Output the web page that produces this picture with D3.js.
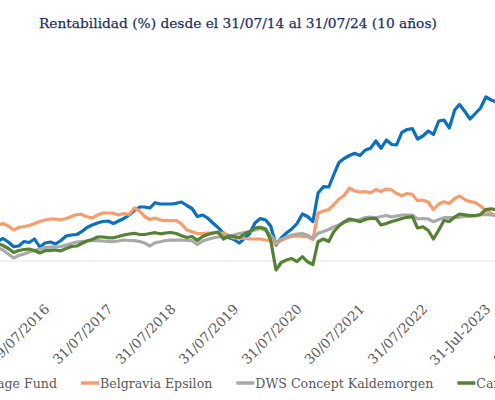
<!DOCTYPE html>
<html>
<head>
<meta charset="utf-8">
<script src="https://cdn.jsdelivr.net/npm/d3@7"></script>
<style>
  body { margin: 0; background: #fff; }
  svg { display: block; }
</style>
</head>
<body>
<svg id="chart" width="495" height="400"></svg>
<script>
// ---------------- data ----------------
const titleText = "Rentabilidad (%) desde el 31/07/14 al 31/07/24 (10 años)";
const seriesNames = ["Advantage Fund", "Belgravia Epsilon", "DWS Concept Kaldemorgen", "Carmignac Patrimoine"];
const seriesColors = ["#0a70c2", "#f89c6c", "#a9a9a9", "#548235"];

// monthly observations, first one at end of this month
const firstMonth = "2015-10";

const blueFund = [20,22.5,19,14.3,15,19.5,18.5,22,14,18,19,17,20.5,25,26,26.5,29.3,33.5,36,38,39.5,40,37.5,40,42.5,46,50.5,54,54,53,58.3,57,57,57,57.7,59,55.5,52.5,44.5,46,43,38,33.5,28,23.5,21.5,18,22.5,27.5,38,42.5,41,35,16,23,28,32,37.5,47,44.5,39.5,68,74.3,74,86,98.5,102.5,105.5,107.7,105.5,111,112.7,120,112.7,121,116.5,116,128.7,131.5,132.3,122,125,130,126.5,140,141,133,151,156.5,149.5,142,147.5,153,164,161,159];
const belgravia = [35.5,37.5,35,31,33.5,34.5,35.5,37.5,39.5,41,42,42,41.2,42.5,44.5,46.5,46.5,44.3,43.2,46,48,48,47.8,46,47.5,46.5,53,50,44.5,41.5,43,41,40.3,40.3,40.3,37,31,29.3,27.5,27.5,28,28,28,28,25.5,23,23,22.5,22,22,22,21,20,17,20.5,23,24.5,25,24.7,24.3,21.5,48,50,51.5,56,62,65.5,73,70,69,69.5,68,71.5,69.5,72,71,67.5,65.3,67.5,66.5,60.3,61,58.7,51.5,57,59.3,57.5,62.5,65,61.5,59.3,58.5,55,50.5,47.5,45];
const kaldemorgen = [13.5,11,7,3,5.5,7,9,10.5,12,13.5,14,14.2,14.5,16,17.5,19,19.5,20,20.3,20.3,20,19.7,19.3,20,21,20.5,20.3,19.5,18,15,18.3,19.3,20.5,20.8,21,20.8,20.5,20.3,16.5,20,21.5,23,24,25,25,26,27.5,28.5,29.3,31,32.5,30.5,26,19,21.5,24,26,27,27.5,26,22.5,27.7,29.5,31.5,34,36,39,40,40.5,41.5,43.5,44,43,44.5,45.5,44,45,46,46,46,42,42.5,42,39.3,41.5,43.3,43.3,43.3,43.8,44.5,44.7,45.2,46,46.5,46,45.3];
const carmignac = [17.5,15.5,12.5,8.5,10.5,11.5,12,10.5,8,10.3,10.7,11,10.2,12.5,14.5,15,17.5,20,21.5,24,24,23.3,23.2,24.5,26,27,27.7,26.5,26.5,27.5,28.3,27.2,28,28.5,27.5,25.2,23.5,24.5,20.5,24.5,26.5,28,29,22,25,24.5,23.2,27,29.5,33,33.7,32,21,-9,-1.5,1,2.5,-0.7,4.3,-0.8,-3.5,19.3,22,19.5,29,35,39,42,41,39.3,41.5,42.7,42.7,36,37.5,39.5,40.8,42.5,43.7,44.3,33,34.3,30.5,22,31,40.5,39.5,44,47,46.2,45.5,45.5,46.5,51.5,52.2,51];

const tickDates  = ["2016-07-29","2017-07-31","2018-07-31","2019-07-31","2020-07-31","2021-07-30","2022-07-31","2023-07-31","2024-07-31"];
const tickLabels = ["29/07/2016","31/07/2017","31/07/2018","31/07/2019","31/07/2020","30/07/2021","31/07/2022","31-Jul-2023","31/07/2024"];
const periodStart = "2014-07-31";
const periodEnd   = "2024-07-31";

// ---------------- build ----------------
const svg = d3.select("#chart");
const W = 495, H = 400;
svg.append("rect").attr("width", W).attr("height", H).attr("fill", "#fff");

const parseDay = d3.timeParse("%Y-%m-%d");
const parseMonth = d3.timeParse("%Y-%m");
const m0 = parseMonth(firstMonth);
const monthEnd = i => d3.timeDay.offset(d3.timeMonth.offset(m0, i + 1), -1);

const allSeries = [blueFund, belgravia, kaldemorgen, carmignac].map((vals, s) => ({
  name: seriesNames[s],
  color: seriesColors[s],
  points: vals.map((v, i) => ({ date: monthEnd(i), value: v }))
}));

// the plot is wider than the visible window (cropped at both sides)
const x = d3.scaleTime()
  .domain([parseDay(periodStart), parseDay(periodEnd)])
  .range([-81, 549]);
const y = d3.scaleLinear().domain([0, 100]).range([261, 161]);

const FONT = "'DejaVu Serif', 'Liberation Serif', serif";

function fitFont(sel, target, base) {
  sel.attr("font-size", base);
  const w = sel.node().getComputedTextLength();
  sel.attr("font-size", (base * target / w).toFixed(2));
}

// title
const title = svg.append("text")
  .attr("x", 39).attr("y", 28)
  .attr("font-family", FONT)
  .attr("fill", "#1c3162")
  .attr("stroke", "#1c3162")
  .attr("stroke-width", 0.25)
  .text(titleText);
fitFont(title, 398, 16);

// zero gridline
svg.append("line")
  .attr("x1", 0).attr("x2", W)
  .attr("y1", y(0)).attr("y2", y(0))
  .attr("stroke", "#e3e3e3").attr("stroke-width", 1);

// lines
const line = d3.line().x(d => x(d.date)).y(d => y(d.value));
svg.append("g").selectAll("path")
  .data(allSeries)
  .join("path")
  .attr("d", d => line(d.points))
  .attr("fill", "none")
  .attr("stroke", d => d.color)
  .attr("stroke-width", 3.2)
  .attr("stroke-linejoin", "round")
  .attr("stroke-linecap", "round");

// x axis (rotated labels)
const xAxis = d3.axisBottom(x)
  .tickValues(tickDates.map(parseDay))
  .tickFormat((d, i) => tickLabels[i])
  .tickSize(0);
const gx = svg.append("g").attr("transform", "translate(0,300)").call(xAxis);
gx.select(".domain").remove();
gx.selectAll("text")
  .attr("font-family", FONT)
  .attr("font-size", 13.5)
  .attr("fill", "#595959")
  .attr("text-anchor", "end")
  .attr("dy", "0")
  .attr("y", 0)
  .attr("transform", "translate(5,10) rotate(-45)");

// legend
const legendY = 383;
const legend = svg.append("g");
const items = allSeries.map(s => {
  const g = legend.append("g");
  g.append("line").attr("x1", 0).attr("x2", 18).attr("y1", legendY).attr("y2", legendY)
    .attr("stroke", s.color).attr("stroke-width", 3.5);
  const t = g.append("text").attr("x", 19).attr("y", legendY + 5)
    .attr("font-family", FONT)
    .attr("fill", "#595959").text(s.name);
  return { g, t };
});
fitFont(items[2].t, 178, 13);
const fs = items[2].t.attr("font-size");
items.forEach(it => it.t.attr("font-size", fs));
const widths = items.map(it => 19 + it.t.node().getComputedTextLength());
const gap = 24;
let pos = 81;
items[1].g.attr("transform", `translate(${pos},0)`);
pos += widths[1] + gap;
items[2].g.attr("transform", `translate(${pos},0)`);
pos += widths[2] + gap;
items[3].g.attr("transform", `translate(${pos},0)`);
items[0].g.attr("transform", `translate(${81 - gap - widths[0]},0)`);
</script>
</body>
</html>
